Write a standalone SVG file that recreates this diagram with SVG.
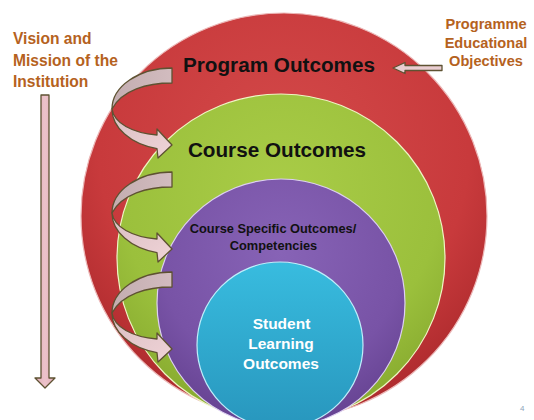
<svg xmlns="http://www.w3.org/2000/svg" width="534" height="420" viewBox="0 0 534 420">
<style>
.side{font-family:"Liberation Sans",Arial,sans-serif;font-weight:bold;fill:#b5621e}
.lbl{font-family:"Liberation Sans",Arial,sans-serif;font-weight:bold;fill:#111;text-anchor:middle}
.wl{font-family:"Liberation Sans",Arial,sans-serif;font-weight:bold;fill:#fff;text-anchor:middle}
.arr{stroke:#5e5232;stroke-width:1.3;stroke-linejoin:round}
</style>
<defs>
<radialGradient id="gRed" cx="50%" cy="35%" r="65%">
<stop offset="0" stop-color="#d44a4a"/><stop offset="0.7" stop-color="#c83a3c"/><stop offset="1" stop-color="#ad2a2d"/>
</radialGradient>
<radialGradient id="gGreen" cx="50%" cy="30%" r="70%">
<stop offset="0" stop-color="#a9cc47"/><stop offset="0.7" stop-color="#9bc03c"/><stop offset="1" stop-color="#87aa2f"/>
</radialGradient>
<radialGradient id="gPurple" cx="50%" cy="30%" r="70%">
<stop offset="0" stop-color="#8763b6"/><stop offset="0.7" stop-color="#7853a6"/><stop offset="1" stop-color="#664392"/>
</radialGradient>
<linearGradient id="gCyan" x1="0" y1="0" x2="0" y2="1">
<stop offset="0" stop-color="#38bcdf"/><stop offset="1" stop-color="#2896bd"/>
</linearGradient>
<linearGradient id="gFront" x1="0" y1="0" x2="1" y2="1">
<stop offset="0" stop-color="#d9bfc3"/><stop offset="1" stop-color="#f0d3d7"/>
</linearGradient>
<linearGradient id="gBack" x1="0" y1="0" x2="1" y2="0">
<stop offset="0" stop-color="#c3adb0"/><stop offset="1" stop-color="#d2bcbf"/>
</linearGradient>
<linearGradient id="gPink" x1="0" y1="0" x2="1" y2="0">
<stop offset="0" stop-color="#e2b0ba"/><stop offset="0.5" stop-color="#ecc2ca"/><stop offset="1" stop-color="#e2b0ba"/>
</linearGradient>
<g id="curved">
<path class="arr" fill="url(#gBack)" d="M0,0 A60,41 0 0 0 -60,41 C-50,22 -25,15 0,15 Z"/>
<path class="arr" fill="url(#gFront)" d="M-60,41 A60,41 0 0 0 -15,80.7 L-14,90 L0,77 L-15,61 L-15,67 C-40,65 -58,55 -60,41 Z"/>
</g>
</defs>
<rect width="534" height="420" fill="#fff"/>
<g id="program-outcomes">
<circle cx="284" cy="216" r="203" fill="url(#gRed)" stroke="#ecb8b8" stroke-width="1.2"/>
<text class="lbl" x="279" y="72" font-size="20.7">Program Outcomes</text>
</g>
<g id="course-outcomes">
<circle cx="281" cy="258" r="164" fill="url(#gGreen)" stroke="#eef6c4" stroke-width="1.2"/>
<text class="lbl" x="277" y="157" font-size="20.7">Course Outcomes</text>
</g>
<g id="course-specific-outcomes">
<circle cx="281" cy="303" r="124" fill="url(#gPurple)" stroke="#ddd0f2" stroke-width="1.2"/>
<text class="lbl" x="273" y="233" font-size="12.8">Course Specific Outcomes/</text>
<text class="lbl" x="273.5" y="250" font-size="12.8">Competencies</text>
</g>
<g id="student-learning-outcomes">
<circle cx="280" cy="345" r="83" fill="url(#gCyan)" stroke="#bfeefa" stroke-width="1.2"/>
<text class="wl" x="281.5" y="329" font-size="15.5">Student</text>
<text class="wl" x="281" y="349" font-size="15.5">Learning</text>
<text class="wl" x="281" y="369" font-size="15.5">Outcomes</text>
</g>
<g id="vision-mission">
<text class="side" x="13" y="44" font-size="15.6">Vision and</text>
<text class="side" x="13" y="65.5" font-size="15.6">Mission of the</text>
<text class="side" x="13" y="87" font-size="15.6">Institution</text>
</g>
<g id="programme-educational-objectives">
<text class="side" x="486" y="29" font-size="14.6" text-anchor="middle">Programme</text>
<text class="side" x="486" y="47.7" font-size="14.6" text-anchor="middle">Educational</text>
<text class="side" x="486" y="66" font-size="14.6" text-anchor="middle">Objectives</text>
</g>
<g id="connectors">
<path class="arr" fill="url(#gPink)" d="M41,95 H49 V378 H55 L45,388 L35,378 H41 Z"/>
<path class="arr" fill="#e9cdd1" d="M442,65.5 H405 V62.5 L393,68 L405,73.5 V70.5 H442 Z"/>
<use href="#curved" transform="translate(172,68)"/>
<use href="#curved" transform="translate(172,172)"/>
<use href="#curved" transform="translate(172,272)"/>
</g>
<text x="520" y="411" font-family="Liberation Sans,Arial,sans-serif" font-size="8" fill="#8ea2ba">4</text>
</svg>
